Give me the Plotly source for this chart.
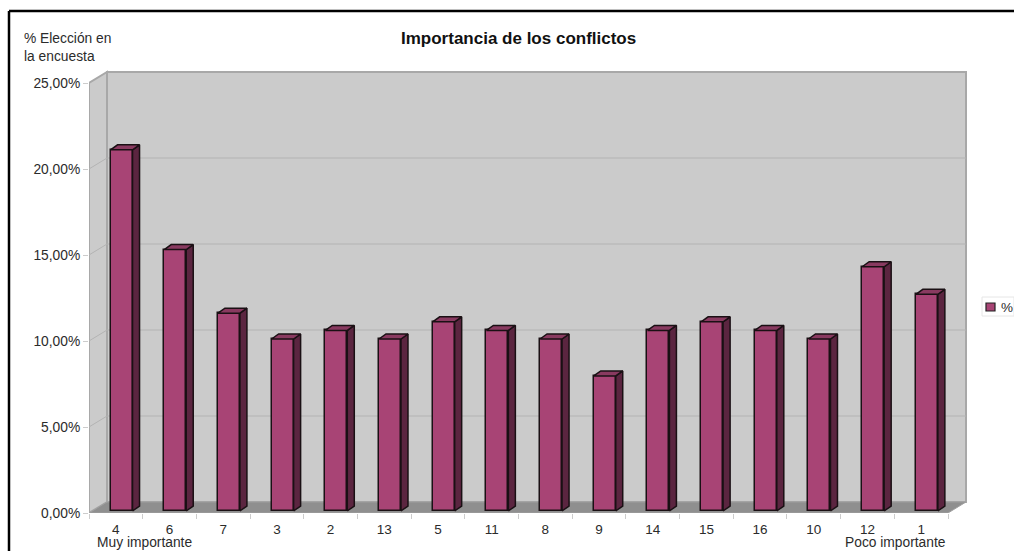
import plotly.graph_objects as go

categories = ["4", "6", "7", "3", "2", "13", "5", "11", "8", "9", "14", "15", "16", "10", "12", "1"]
values = [21.0, 15.2, 11.5, 10.0, 10.5, 10.0, 11.0, 10.5, 10.0, 7.85, 10.5, 11.0, 10.5, 10.0, 14.2, 12.6]
y_ticks = [0, 5, 10, 15, 20, 25]
y_tick_labels = ["0,00%", "5,00%", "10,00%", "15,00%", "20,00%", "25,00%"]
title = "Importancia de los conflictos"
y_title = "% Elección en<br>la encuesta"
series_name = "%"

W, H = 1014, 551
L, R, T, B = 89, 970, 68, 513          # plot box in pixels
CAT_PX = (948 - 89) / 16               # pixels per category
VAL_PX = (513 - 83) / 25               # pixels per percent point
n = len(categories)
x_range = [-0.5, -0.5 + (R - L) / CAT_PX]
y_range = [0, (B - T) / VAL_PX]


def ux(px):
    return px / CAT_PX


def uy(px):
    return px / VAL_PX


def px_x(px):
    return (px - L) / (R - L)


def px_y(py):
    return (B - py) / (B - T)


WALL_DX, WALL_DY = ux(18), uy(11)
BAR_DX, BAR_DY = ux(5.7), uy(2)
BAR_W = ux(22)
SIDE_DX, SIDE_DY = ux(7), uy(5)

FRONT, SIDE, TOP = "#a84475", "#5b2540", "#893a60"
WALL, FLOOR, EDGE, GRID = "#cbcbcb", "#8f8f8f", "#a8a8a8", "#b3b3b3"
FONT = "Liberation Sans, Arial, sans-serif"
TXT = "#2b2b2b"

x_end = n - 0.5
shapes = []


def poly(points, fill, line=None, width=1):
    path = "M " + " L ".join(f"{a},{b}" for a, b in points) + " Z"
    shapes.append(dict(type="path", path=path, xref="x", yref="y", fillcolor=fill,
                       line=dict(color=line or fill, width=width), layer="below"))


poly([(-0.5 + WALL_DX, WALL_DY), (x_end + WALL_DX, WALL_DY),
      (x_end + WALL_DX, 25 + WALL_DY), (-0.5 + WALL_DX, 25 + WALL_DY)], WALL, EDGE, 2)
poly([(-0.5, 0), (-0.5 + WALL_DX, WALL_DY), (-0.5 + WALL_DX, 25 + WALL_DY), (-0.5, 25)], WALL, EDGE, 2)
poly([(-0.5, 0), (x_end, 0), (x_end + WALL_DX, WALL_DY), (-0.5 + WALL_DX, WALL_DY)], FLOOR, "#a0a0a0", 1)
for t in y_ticks[1:-1]:
    shapes.append(dict(type="line", xref="x", yref="y", layer="below",
                       x0=-0.5, y0=t, x1=-0.5 + WALL_DX, y1=t + WALL_DY, line=dict(color=GRID, width=1)))
    shapes.append(dict(type="line", xref="x", yref="y", layer="below",
                       x0=-0.5 + WALL_DX, y0=t + WALL_DY, x1=x_end + WALL_DX, y1=t + WALL_DY,
                       line=dict(color=GRID, width=1)))

# Page frame and hand-sized legend
shapes.append(dict(type="line", xref="paper", yref="paper", x0=px_x(9), x1=px_x(W), y0=px_y(11), y1=px_y(11),
                   line=dict(color="black", width=2.5)))
shapes.append(dict(type="line", xref="paper", yref="paper", x0=px_x(9), x1=px_x(9), y0=px_y(11), y1=px_y(H),
                   line=dict(color="black", width=2.5)))
shapes.append(dict(type="rect", xref="paper", yref="paper", x0=px_x(982), x1=px_x(1014), y0=px_y(297), y1=px_y(316),
                   fillcolor="white", line=dict(color="#e6e6e6", width=1)))
shapes.append(dict(type="rect", xref="paper", yref="paper", x0=px_x(986), x1=px_x(995), y0=px_y(303), y1=px_y(311),
                   fillcolor=FRONT, line=dict(color="#222222", width=1.2)))

bar_x = [i + BAR_DX for i in range(n)]
side_x, side_y, top_x, top_y = [], [], [], []
for cx, v in zip(bar_x, values):
    x0, x1 = cx - BAR_W / 2, cx + BAR_W / 2
    tp = v + BAR_DY
    side_x += [x1, x1, x1 + SIDE_DX, x1 + SIDE_DX, x1, None]
    side_y += [BAR_DY, tp, tp + SIDE_DY, BAR_DY + SIDE_DY, BAR_DY, None]
    top_x += [x0, x1, x1 + SIDE_DX, x0 + SIDE_DX, x0, None]
    top_y += [tp, tp, tp + SIDE_DY, tp + SIDE_DY, tp, None]

fig = go.Figure()
fig.add_trace(go.Bar(x=bar_x, y=values, base=BAR_DY, width=BAR_W, name=series_name,
                     marker=dict(color=FRONT, line=dict(color="#1a1014", width=1.5)), showlegend=False))
for xs, ys, col in ((side_x, side_y, SIDE), (top_x, top_y, TOP)):
    fig.add_trace(go.Scatter(x=xs, y=ys, mode="lines", fill="toself", fillcolor=col,
                             line=dict(color="#1a1014", width=1.5), hoverinfo="skip", showlegend=False))


def note(text, px, py, size, anchor="left", bold=False, color=TXT, align="left"):
    return dict(text=f"<b>{text}</b>" if bold else text, xref="paper", yref="paper", x=px_x(px), y=px_y(py),
                xanchor=anchor, yanchor="middle", showarrow=False, align=align,
                font=dict(family=FONT, size=size, color=color))


fig.update_layout(
    width=W, height=H, margin=dict(l=L, r=W - R, t=T, b=H - B, autoexpand=False, pad=0),
    paper_bgcolor="white", plot_bgcolor="white", showlegend=False, bargap=0,
    font=dict(family=FONT, size=13.5, color=TXT),
    xaxis=dict(range=x_range, tickmode="array", tickvals=list(range(n)), ticktext=categories, ticks="",
               showgrid=False, zeroline=False, showline=False, ticklabelstandoff=6,
               tickfont=dict(family=FONT, size=13.5, color=TXT),
               minor=dict(ticks="outside", ticklen=5, tickcolor="#cccccc", tickwidth=1,
                          tickmode="array", tickvals=[i - 0.5 for i in range(n + 1)], showgrid=False)),
    yaxis=dict(range=y_range, tickmode="array", tickvals=y_ticks, ticktext=y_tick_labels, ticks="outside",
               ticklen=5, tickcolor="#cccccc", tickwidth=1, showgrid=False, zeroline=False, showline=False,
               tickfont=dict(family=FONT, size=13.8, color=TXT)),
    shapes=shapes,
    annotations=[
        note(title, 518, 38, 17, "center", True, "#111111"),
        note(y_title, 22, 47, 13.8),
        note("Muy importante", 95, 542, 13.8),
        note("Poco importante", 843, 542, 13.8),
        note(series_name, 999, 307, 13.5),
    ],
)

fig.write_html("out.html", config={"displayModeBar": False},
               post_script="document.body.style.margin='0';document.documentElement.style.overflow='hidden';")
